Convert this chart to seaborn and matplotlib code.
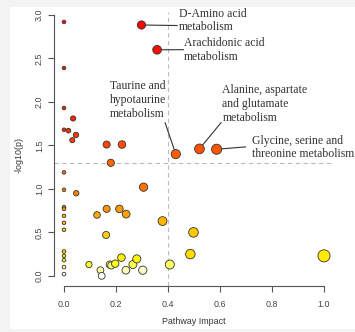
import colorsys
import numpy as np
import pandas as pd
import matplotlib
matplotlib.use("Agg")
import matplotlib.pyplot as plt
import seaborn as sns
from matplotlib.patches import Rectangle

# ---- data (pathway impact vs -log10(p)) ----
impact = [0.298, 0.358, 0.430, 0.521, 0.587,
          0.0, 0.0, 0.0, 0.0, 0.0, 0.0, 0.0, 0.0, 0.0, 0.0, 0.0, 0.0, 0.0, 0.0, 0.0, 0.0,
          0.017, 0.035, 0.046, 0.032, 0.047,
          0.164, 0.223, 0.180, 0.306, 0.127, 0.164, 0.213, 0.239, 0.379, 0.162,
          0.096, 0.140, 0.145, 0.176, 0.182, 0.197, 0.221, 0.238, 0.265, 0.280,
          0.303, 0.407, 0.498, 0.486, 1.000]
neglogp = [2.885, 2.600, 1.400, 1.460, 1.456,
           2.92, 2.39, 1.93, 1.68, 1.19, 0.99, 0.79, 0.77, 0.69, 0.61, 0.53, 0.28, 0.23, 0.18, 0.10, 0.02,
           1.67, 1.81, 1.62, 1.56, 0.95,
           1.51, 1.51, 1.30, 1.02, 0.70, 0.77, 0.77, 0.71, 0.63, 0.47,
           0.13, 0.065, 0.00, 0.13, 0.12, 0.14, 0.21, 0.065, 0.13, 0.195,
           0.065, 0.13, 0.50, 0.25, 0.23]
annot_names = ["D-Amino acid\nmetabolism",
               "Arachidonic acid\nmetabolism",
               "Taurine and\nhypotaurine\nmetabolism",
               "Alanine, aspartate\nand glutamate\nmetabolism",
               "Glycine, serine and\nthreonine metabolism"]
xticks = [0.0, 0.2, 0.4, 0.6, 0.8, 1.0]
yticks = [0.0, 0.5, 1.0, 1.5, 2.0, 2.5, 3.0]
p_cut = 1.301
impact_cut = 0.4

# ---- style helpers ----
n = len(impact)
def heat_colors(n):
    j = n // 4
    i = n - j
    cols = []
    for k in range(i):
        h = (1/6) * k / (i - 1)
        cols.append(colorsys.hsv_to_rgb(h, 1, 1))
    for s in np.linspace(1 - 1/(2*j), 1/(2*j), j):
        cols.append(colorsys.hsv_to_rgb(1/6, s, 1))
    return cols

order = sorted(range(n), key=lambda k: -neglogp[k])
hc = heat_colors(n)
colors = [None]*n
for r, k in enumerate(order):
    colors[k] = hc[r]

df = pd.DataFrame({"impact": impact, "neglogp": neglogp,
                   "pid": [f"p{k}" for k in range(n)]})
palette = {f"p{k}": colors[k] for k in range(n)}
sizes = {f"p{k}": ((3.6 + 8.5*np.sqrt(impact[k])) * 0.72)**2 for k in range(n)}

W, H = 355, 332
fig = plt.figure(figsize=(W/100, H/100), dpi=100, facecolor="#f3f3f3")
fig.patches.append(Rectangle((10/W, 3/H), 1 - 10/W, (329-7)/H, transform=fig.transFigure,
                             facecolor="white", edgecolor="none", zorder=-10))
ax = fig.add_axes([53.6/W, (H-286)/H, 280.8/W, 274.2/H])
ax.set_zorder(5)
ax.set_facecolor("none")

ax.axhline(p_cut, color="#bbbbbb", lw=0.8, ls=(0, (4, 3)), zorder=1)
ax.axvline(impact_cut, color="#bbbbbb", lw=0.8, ls=(0, (4, 3)), zorder=1)

# annotation lines (drawn from points to label side)
line_ends = [(0.435, 2.879), (0.459, 2.601), (0.389, 1.759), (0.604, 1.762), (0.698, 1.483)]
text_pos = [(0.443, 2.937), (0.462, 2.598), (0.177, 2.023), (0.609, 1.977), (0.723, 1.477)]
for k in range(len(annot_names)):
    ax.plot([impact[k], line_ends[k][0]], [neglogp[k], line_ends[k][1]],
            color="#333333", lw=0.8, zorder=2)
    ax.text(text_pos[k][0], text_pos[k][1], annot_names[k], ha="left", va="center",
            fontsize=8.5, family="Liberation Serif", color="#333333", linespacing=1.2, zorder=4)

sns.scatterplot(data=df, x="impact", y="neglogp", hue="pid", palette=palette,
                size="pid", sizes=sizes, edgecolor="#333333", linewidth=0.6,
                legend=False, ax=ax, zorder=3)

ax.set_xlim(-0.04, 1.04)
ax.set_ylim(-0.1168, 3.0368)
ax.set_xticks(xticks)
ax.set_yticks(yticks)
ax.set_xticklabels([f"{v:.1f}" for v in xticks], family="Liberation Sans")
ax.set_yticklabels([f"{v:.1f}" for v in yticks], family="Liberation Sans",
                   rotation=90, va="center")
for s in ["top", "right"]:
    ax.spines[s].set_visible(False)
ax.spines["left"].set_bounds(0, 3)
ax.spines["bottom"].set_bounds(0, 1)
for s in ["left", "bottom"]:
    ax.spines[s].set_color("#555555")
    ax.spines[s].set_linewidth(0.8)
ax.tick_params(length=4, width=0.8, color="#555555", labelcolor="#444444", labelsize=6.4)
ax.tick_params(axis="x", pad=6)
ax.tick_params(axis="y", pad=3)

ax.set_xlabel("Pathway Impact", family="Liberation Sans", fontsize=6.4, color="#333333")
ax.set_ylabel("-log10(p)", family="Liberation Sans", fontsize=6.4, color="#333333")
ax.xaxis.set_label_coords((194-53.6)/280.8, (286-322)/274.2)
ax.xaxis.label.set_va("center")
ax.yaxis.set_label_coords((19-53.6)/280.8, (286-155)/274.2)
ax.yaxis.label.set_va("center")

fig.savefig("out.png", dpi=100, facecolor=fig.get_facecolor())
